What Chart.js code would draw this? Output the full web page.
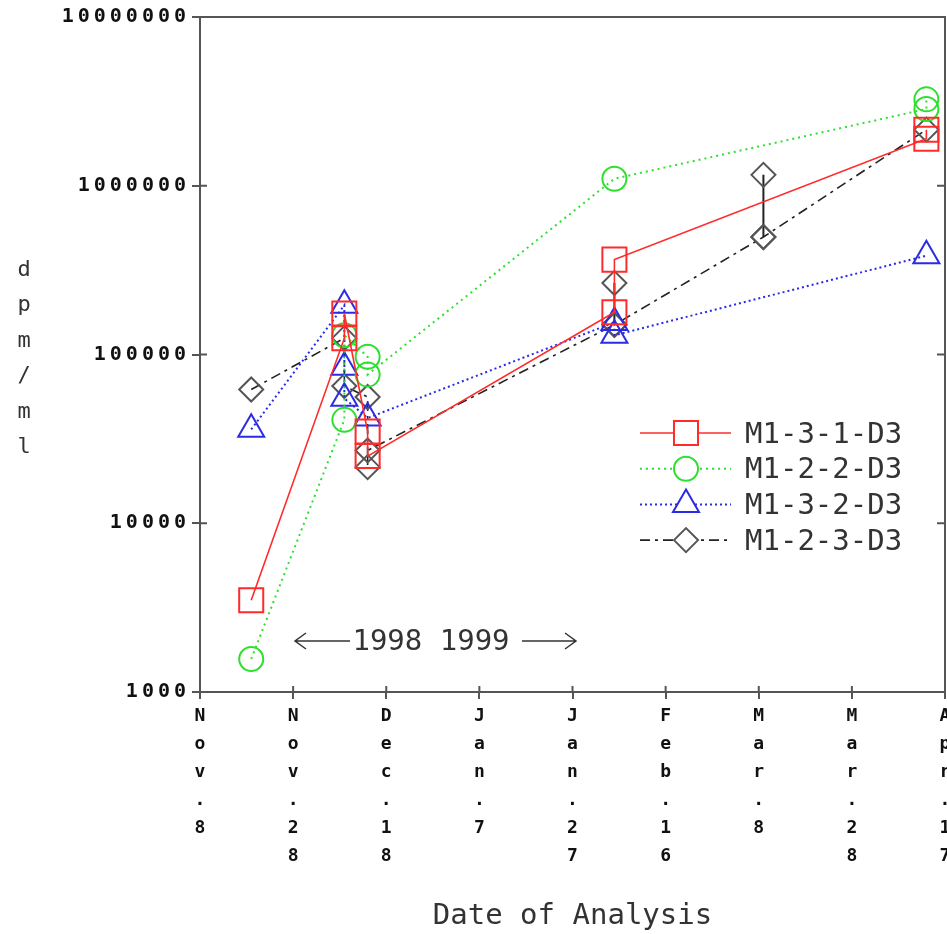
<!DOCTYPE html>
<html>
<head>
<meta charset="utf-8">
<script src="https://cdn.jsdelivr.net/npm/chart.js@4.4.1/dist/chart.umd.min.js"></script>
<style>
  html, body { margin: 0; padding: 0; background: #fff; }
  canvas { display: block; }
</style>
</head>
<body>
<canvas id="myChart" width="947" height="934"></canvas>
<script>
// x values are days after Nov 8 1998, ticks every 20 days
const dateTicks = ['Nov.8', 'Nov.28', 'Dec.18', 'Jan.7', 'Jan.27', 'Feb.16', 'Mar.8', 'Mar.28', 'Apr.17'];
const dpmTicks = [1000, 10000, 100000, 1000000, 10000000];
const seriesNames = ['M1-3-1-D3', 'M1-2-2-D3', 'M1-3-2-D3', 'M1-2-3-D3'];

const m131Days = [11, 31, 31, 36, 36, 89, 89, 156, 156];
const m131Dpm = [3500, 125000, 175000, 35000, 25000, 178000, 365000, 1900000, 2150000];

const m122Days = [11, 31, 31, 36, 36, 89, 156, 156];
const m122Dpm = [1570, 41000, 130000, 97000, 76000, 1100000, 2850000, 3250000];

const m132Days = [11, 31, 31, 31, 36, 89, 89, 156];
const m132Dpm = [36000, 196000, 84000, 55000, 42000, 155000, 130000, 385000];

const m123Days = [11, 31, 31, 36, 36, 36, 89, 121, 156];
const m123Dpm = [62000, 125000, 65000, 56000, 21500, 27000, 150000, 497000, 2150000];
// extra M1-2-3-D3 replicates joined to the point below them
const m123RepDays = [89, 121];
const m123RepTop = [265000, 1160000];
const m123RepLow = [150000, 497000];

const axisColor = '#555';
const textColor = '#333';
const mono = 'DejaVu Sans Mono';

const looks = [
  { color: '#ff2b2b', pointColor: '#ff2b2b', style: 'rect', radius: 17, dash: [], width: 1.6 },
  { color: '#2ee02e', pointColor: '#2ee02e', style: 'circle', radius: 12, dash: [2, 4], width: 2 },
  { color: '#2b2be6', pointColor: '#2b2be6', style: 'triangle', radius: 15, dash: [2, 3], width: 2 },
  { color: '#222', pointColor: '#555', style: 'rectRot', radius: 12, dash: [10, 5, 3, 5], width: 1.6 }
];

const toPoints = (days, vals) => days.map((d, i) => ({ x: d, y: vals[i] }));

function makeSet(i, points) {
  const l = looks[i];
  return {
    label: seriesNames[i],
    data: points,
    borderColor: l.color,
    borderWidth: l.width,
    borderDash: l.dash,
    pointStyle: l.style,
    pointRadius: l.radius,
    pointBorderColor: l.pointColor,
    pointBorderWidth: 2,
    pointBackgroundColor: 'rgba(0,0,0,0)',
    fill: false,
    tension: 0,
    clip: false
  };
}

const repPoints = m123RepDays.flatMap((d, i) => [
  { x: d, y: m123RepTop[i] }, { x: d, y: m123RepLow[i] }, { x: d, y: null }
]);
const repSet = Object.assign(makeSet(3, repPoints), {
  label: 'rep', borderDash: [], borderWidth: 2, spanGaps: false
});

const decor = {
  id: 'decor',
  afterUpdate(chart) {
    const s = chart.scales.y;
    if (s && !s._spaced) {
      const orig = s.drawLabels.bind(s);
      s.drawLabels = function (area) {
        chart.ctx.save();
        chart.ctx.letterSpacing = '4px';
        orig(area);
        chart.ctx.restore();
      };
      s._spaced = true;
    }
  },
  afterDraw(chart) {
    const { ctx, chartArea: a, scales: { x, y } } = chart;
    ctx.save();
    ctx.strokeStyle = axisColor;
    ctx.lineWidth = 2;
    ctx.setLineDash([]);
    ctx.beginPath();
    ctx.moveTo(a.left - 5, a.top);
    ctx.lineTo(a.right, a.top);
    ctx.lineTo(a.right, a.bottom);
    dpmTicks.forEach(v => {
      const py = y.getPixelForValue(v);
      ctx.moveTo(a.left, py); ctx.lineTo(a.left + 7, py);
      ctx.moveTo(a.right, py); ctx.lineTo(a.right - 8, py);
    });
    x.ticks.forEach(t => {
      const px = x.getPixelForValue(t.value);
      ctx.moveTo(px, a.bottom); ctx.lineTo(px, a.bottom - 6);
    });
    ctx.stroke();

    // y title, one letter per line
    ctx.fillStyle = textColor;
    ctx.font = '22px ' + mono;
    ctx.textAlign = 'center';
    ctx.textBaseline = 'middle';
    'dpm/ml'.split('').forEach((c, i) => ctx.fillText(c, 24, 270 + i * 35.5));

    // legend
    ctx.font = '29px ' + mono;
    ctx.textAlign = 'left';
    looks.forEach((l, i) => {
      const ly = 433 + i * 35.7;
      ctx.strokeStyle = l.color;
      ctx.lineWidth = l.width;
      ctx.setLineDash(l.dash);
      ctx.beginPath();
      ctx.moveTo(640, ly); ctx.lineTo(731, ly);
      ctx.stroke();
      ctx.setLineDash([]);
      ctx.fillStyle = '#fff';
      ctx.strokeStyle = l.pointColor;
      ctx.lineWidth = 2;
      Chart.helpers.drawPoint(ctx, { pointStyle: l.style, radius: l.radius, rotation: 0, borderWidth: 2 }, 686, ly);
      ctx.fillStyle = textColor;
      ctx.fillText(seriesNames[i], 745, ly + 2);
    });

    // year annotation
    ctx.font = '29px ' + mono;
    ctx.textAlign = 'center';
    ctx.fillText('1998 1999', 431, 642);
    ctx.strokeStyle = textColor;
    ctx.lineWidth = 1.5;
    ctx.beginPath();
    ctx.moveTo(295, 641); ctx.lineTo(350, 641);
    ctx.moveTo(306, 633); ctx.lineTo(295, 641); ctx.lineTo(306, 649);
    ctx.moveTo(522, 641); ctx.lineTo(576, 641);
    ctx.moveTo(565, 633); ctx.lineTo(576, 641); ctx.lineTo(565, 649);
    ctx.stroke();
    ctx.restore();
  }
};

new Chart(document.getElementById('myChart').getContext('2d'), {
  type: 'line',
  data: {
    datasets: [
      makeSet(0, toPoints(m131Days, m131Dpm)),
      makeSet(1, toPoints(m122Days, m122Dpm)),
      makeSet(2, toPoints(m132Days, m132Dpm)),
      makeSet(3, toPoints(m123Days, m123Dpm)),
      repSet
    ]
  },
  options: {
    responsive: false,
    animation: false,
    devicePixelRatio: 1,
    layout: { autoPadding: false, padding: { top: 17, right: 2, left: 0, bottom: 0 } },
    plugins: { legend: { display: false }, tooltip: { enabled: false } },
    scales: {
      x: {
        type: 'linear',
        min: 0,
        max: 160,
        afterFit(s) { s.height = 242; s.paddingLeft = 0; s.paddingRight = 0; },
        grid: { drawOnChartArea: false, tickLength: 7, color: axisColor, lineWidth: 2 },
        border: { color: axisColor, width: 2 },
        ticks: {
          stepSize: 20,
          autoSkip: false,
          maxRotation: 0,
          minRotation: 0,
          padding: 3,
          color: '#111',
          font: { family: mono, size: 18, weight: 'bold', lineHeight: 1.56 },
          callback: (v, i) => (dateTicks[i] || '').split('')
        },
        title: {
          display: true,
          text: 'Date of Analysis',
          color: textColor,
          padding: { top: 0, bottom: 0 },
          font: { family: mono, size: 29 }
        }
      },
      y: {
        type: 'logarithmic',
        min: 1000,
        max: 10000000,
        afterFit(s) { s.width = 200; s.paddingTop = 0; s.paddingBottom = 0; },
        afterBuildTicks(s) { s.ticks = dpmTicks.map(v => ({ value: v, major: true })); },
        grid: { drawOnChartArea: false, tickLength: 8, color: axisColor, lineWidth: 2 },
        border: { color: axisColor, width: 2 },
        ticks: {
          padding: 2,
          color: '#111',
          font: { family: mono, size: 20, weight: 'bold' },
          callback: v => String(v)
        }
      }
    }
  },
  plugins: [decor]
});
</script>
</body>
</html>
